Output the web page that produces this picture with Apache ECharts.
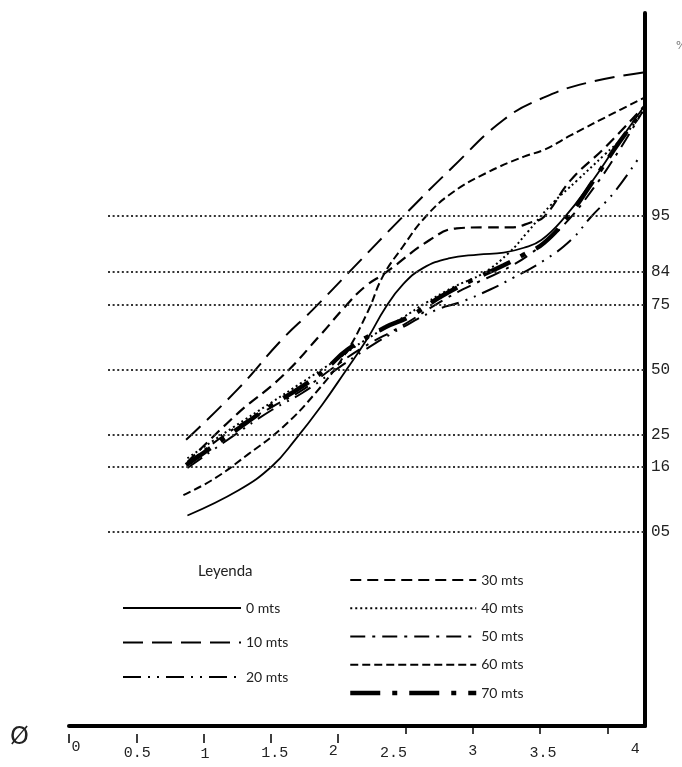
<!DOCTYPE html>
<html>
<head>
<meta charset="utf-8">
<script src="https://cdn.jsdelivr.net/npm/echarts@6/dist/echarts.min.js"></script>
<style>
html,body{margin:0;padding:0;background:#fff;}
#chart{width:682px;height:767px;}
</style>
</head>
<body>
<div id="chart"></div>
<script>
// ---- data (x = Ø value, y = probability position in sigma units) ----
const xTicks = [0, 0.5, 1, 1.5, 2, 2.5, 3, 3.5, 4];
const xTickLabels = ['0', '0.5', '1', '1.5', '2', '2.5', '3', '3.5', '4'];
const levelLabels = ['05', '16', '25', '50', '75', '84', '95'];
const levelZ = [-1.67, -1.0, -0.67, 0, 0.67, 1.01, 1.59];
const seriesNames = ['0 mts', '10 mts', '20 mts', '30 mts', '40 mts', '50 mts', '60 mts', '70 mts'];

const s0 = [[0.88,-1.50],[1.26,-1.24],[1.51,-0.99],[1.68,-0.72],[1.88,-0.36],[2.05,-0.02],[2.22,0.33],[2.35,0.64],[2.48,0.88],[2.63,1.05],[2.82,1.15],[3.04,1.19],[3.23,1.21],[3.38,1.26],[3.51,1.34],[3.68,1.57],[3.88,1.93],[4.08,2.34],[4.28,2.73]];
const s10 = [[0.87,-0.72],[1.26,-0.19],[1.58,0.31],[1.81,0.62],[2.11,1.05],[2.48,1.58],[2.85,2.09],[3.23,2.58],[3.53,2.81],[3.85,2.96],[4.28,3.07]];
const s20 = [[0.88,-1.01],[1.21,-0.69],[1.51,-0.41],[1.73,-0.24],[1.96,-0.02],[2.18,0.19],[2.48,0.44],[2.73,0.62],[2.91,0.70],[3.13,0.83],[3.30,0.95],[3.53,1.13],[3.73,1.34],[3.88,1.58],[4.05,1.83],[4.25,2.22]];
const s30 = [[0.88,-0.95],[1.26,-0.44],[1.58,-0.07],[1.88,0.38],[2.05,0.65],[2.20,0.86],[2.35,1.00],[2.68,1.34],[2.88,1.46],[3.08,1.47],[3.28,1.47],[3.43,1.52],[3.53,1.58],[3.73,1.96],[3.98,2.29],[4.28,2.73]];
const s40 = [[0.88,-0.91],[1.21,-0.60],[1.51,-0.33],[1.73,-0.13],[1.96,0.08],[2.18,0.29],[2.48,0.54],[2.65,0.69],[2.85,0.85],[3.08,1.00],[3.27,1.21],[3.40,1.41],[3.58,1.70],[3.78,1.96],[3.98,2.22],[4.13,2.42],[4.28,2.70]];
const s50 = [[0.88,-0.96],[1.21,-0.62],[1.51,-0.38],[1.73,-0.21],[1.96,0.02],[2.18,0.23],[2.48,0.46],[2.78,0.72],[3.00,0.88],[3.23,1.03],[3.45,1.22],[3.68,1.50],[3.90,1.88],[4.09,2.27],[4.26,2.66]];
const s60 = [[0.85,-1.29],[1.08,-1.12],[1.33,-0.87],[1.58,-0.60],[1.83,-0.24],[2.05,0.16],[2.22,0.60],[2.33,0.96],[2.48,1.27],[2.65,1.58],[2.85,1.83],[3.10,2.03],[3.38,2.20],[3.53,2.27],[3.73,2.42],[4.05,2.65],[4.28,2.81]];
const s70 = [[0.87,-0.98],[1.21,-0.65],[1.51,-0.36],[1.71,-0.19],[1.90,0.00],[2.07,0.21],[2.35,0.44],[2.53,0.55],[2.78,0.77],[3.03,0.95],[3.23,1.08],[3.38,1.19],[3.53,1.31],[3.72,1.60],[3.90,1.96],[4.09,2.35],[4.28,2.70]];
const seriesData = [s0, s10, s20, s30, s40, s50, s60, s70];

// ---- styles / layout ----
const X_MAX = 4.28, Y_MIN = -3.67, Y_MAX = 3.68, LINE_START = 0.29;
const styles = [
  { type: 'solid', width: 1.8 },
  { type: [20, 9], width: 2 },
  { type: [18, 7, 2, 7, 2, 7], width: 2 },
  { type: [11, 6], width: 2.2 },
  { type: [2, 3], width: 2 },
  { type: [15, 7, 3, 7], width: 2 },
  { type: [8, 4], width: 2 },
  { type: [30, 12, 5, 12], width: 4.5 }
];
// label offsets: [dx, padTop]
const labelShift = [[7, 2], [1, 13], [1.5, 16], [4, 13], [-5, 10], [-12, 13], [0, 10], [3, 13], [28, 6]];

const rich = {};
labelShift.forEach(function (s, i) {
  const dx = s[0];
  rich['l' + i] = {
    fontFamily: 'Liberation Mono', fontSize: 15, color: '#222', lineHeight: 17,
    padding: [s[1], dx < 0 ? -2 * dx : 0, 0, dx > 0 ? 2 * dx : 0]
  };
});

const series = seriesNames.map(function (name, i) {
  return {
    name: name, type: 'line', data: seriesData[i], symbol: 'none',
    smooth: 0.45, clip: false,
    itemStyle: { color: '#000' },
    lineStyle: { color: '#000', width: styles[i].width, type: styles[i].type }
  };
});
series.push({
  name: 'levels', type: 'line', data: [], symbol: 'none',
  markLine: {
    silent: true, symbol: ['none', 'none'], animation: false,
    lineStyle: { color: '#333', width: 2, type: [2, 2.6] },
    label: { show: true, position: 'end', distance: 6, formatter: '{b}',
      fontFamily: 'Liberation Mono', fontSize: 16, color: '#222' },
    data: levelZ.map(function (z, i) {
      return [{ coord: [LINE_START, z], name: levelLabels[i] }, { coord: [X_MAX, z] }];
    })
  }
});

const legendCommon = {
  orient: 'vertical', itemHeight: 14, selectedMode: false, padding: 0,
  itemStyle: { opacity: 0, borderWidth: 0 },
  lineStyle: { width: 'inherit', type: 'inherit', color: '#000' },
  textStyle: { fontFamily: 'Lato', fontSize: 14, color: '#222', lineHeight: 14 }
};

const chart = echarts.init(document.getElementById('chart'));
chart.setOption({
  animation: false,
  backgroundColor: '#fff',
  grid: { left: 69, right: 37, top: 13, bottom: 41 },
  xAxis: [
    {
      type: 'value', min: 0, max: X_MAX, position: 'bottom',
      axisLine: { show: true, onZero: false, lineStyle: { color: '#000', width: 4 } },
      axisTick: { show: true, customValues: xTicks.slice(5), length: 8, lineStyle: { color: '#000', width: 1.5 } },
      axisLabel: { show: false },
      splitLine: { show: false }
    },
    {
      type: 'value', min: 0, max: X_MAX, position: 'bottom', offset: 8,
      axisLine: { show: false, onZero: false },
      axisTick: { show: true, customValues: xTicks.slice(0, 5), length: 9, lineStyle: { color: '#000', width: 1.5 } },
      axisLabel: {
        show: true, customValues: xTicks, margin: 4,
        formatter: function (v) {
          const i = xTicks.indexOf(v);
          return '{l' + i + '|' + xTickLabels[i] + '}';
        },
        rich: rich
      },
      splitLine: { show: false }
    }
  ],
  yAxis: {
    type: 'value', min: Y_MIN, max: Y_MAX, position: 'right',
    axisLine: { show: true, onZero: false, lineStyle: { color: '#000', width: 4 } },
    axisTick: { show: false }, axisLabel: { show: false }, splitLine: { show: false }
  },
  legend: [
    Object.assign({}, legendCommon, {
      data: seriesNames.slice(0, 3), left: 122, top: 601, itemWidth: 118, itemGap: 20.5
    }),
    Object.assign({}, legendCommon, {
      data: seriesNames.slice(3), left: 348, top: 573, itemWidth: 126, itemGap: 14.25
    })
  ],
  graphic: [
    { type: 'text', left: 198, top: 564, style: { text: 'Leyenda', font: '15px Lato', fill: '#222' } },
    { type: 'text', left: 10, top: 726, style: { text: 'Ø', font: '24px "DejaVu Sans"', fill: '#222' } },
    { type: 'text', left: 676, top: 41, style: { text: '%', font: '11px "DejaVu Sans"', fill: '#777' } }
  ],
  series: series
});
</script>
</body>
</html>
